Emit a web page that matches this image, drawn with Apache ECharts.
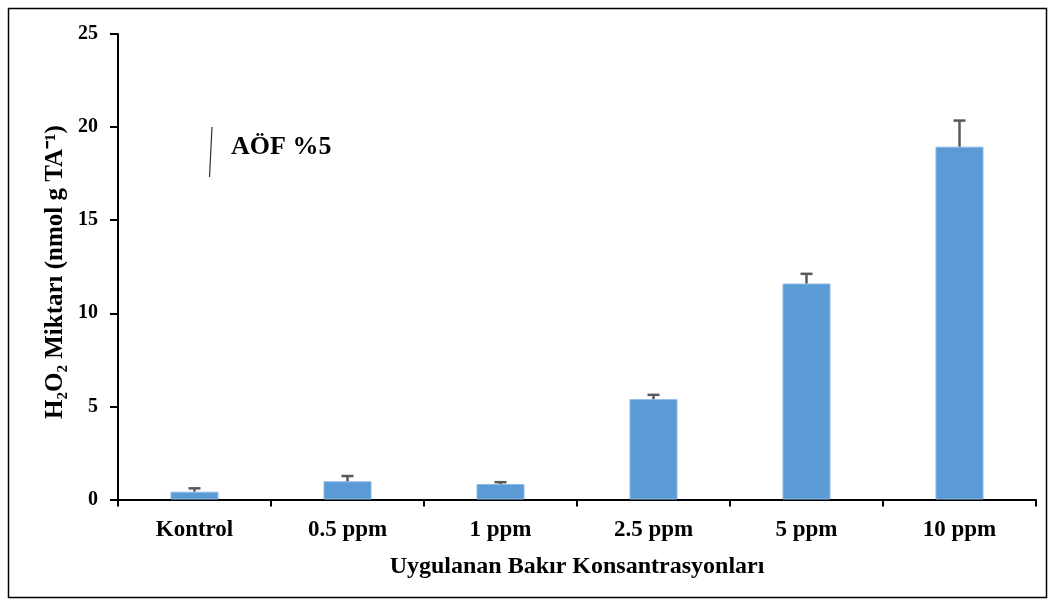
<!DOCTYPE html>
<html>
<head>
<meta charset="utf-8">
<script src="https://cdn.jsdelivr.net/npm/echarts@6/dist/echarts.min.js"></script>
<style>html,body{margin:0;padding:0;background:#fff}#c{width:1055px;height:606px}</style>
</head>
<body>
<div id="c"></div>
<script>
const categories = ['Kontrol', '0.5 ppm', '1 ppm', '2.5 ppm', '5 ppm', '10 ppm'];
const means = [0.42, 0.98, 0.83, 5.39, 11.6, 18.95];
const errors = [0.18, 0.28, 0.1, 0.23, 0.52, 1.4];
const yTicks = [0, 5, 10, 15, 20, 25];
const xTitle = 'Uygulanan Bakır Konsantrasyonları';
const yTitle = 'H₂O₂ Miktarı (nmol g TA⁻¹)';
const note = 'AÖF %5';

const font = '"Liberation Serif", "Times New Roman", serif';
const chart = echarts.init(document.getElementById('c'));
chart.setOption({
  animation: false,
  backgroundColor: '#fff',
  grid: { left: 118, right: 19, top: 34, bottom: 106.5 },
  xAxis: {
    type: 'category',
    data: categories,
    axisLine: { lineStyle: { color: '#000', width: 2 } },
    axisTick: { show: true, length: 7, lineStyle: { color: '#000', width: 2 } },
    axisLabel: { color: '#000', fontFamily: font, fontWeight: 'bold', fontSize: 23, margin: 19 },
    name: xTitle,
    nameLocation: 'middle',
    nameGap: 55,
    nameTextStyle: { color: '#000', fontFamily: font, fontWeight: 'bold', fontSize: 24 }
  },
  yAxis: {
    type: 'value',
    min: yTicks[0], max: yTicks[yTicks.length - 1], interval: 5,
    axisLine: { show: true, lineStyle: { color: '#000', width: 2 } },
    axisTick: { show: true, inside: false, length: 8, lineStyle: { color: '#000', width: 2 } },
    splitLine: { show: false },
    axisLabel: { color: '#000', fontFamily: font, fontWeight: 'bold', fontSize: 20, margin: 20 }
  },
  graphic: [
    { type: 'rect', shape: { x: 8.5, y: 8.5, width: 1038, height: 589 }, style: { fill: 'none', stroke: '#000', lineWidth: 1.5 }, silent: true, z: 0 },
    { type: 'text', x: 56, y: 272, rotation: Math.PI / 2, style: { text: yTitle, font: 'bold 25px ' + font, fill: '#000', align: 'center', verticalAlign: 'middle' } },
    { type: 'text', x: 231, y: 147, style: { text: note, font: 'bold 26px ' + font, fill: '#000', align: 'left', verticalAlign: 'middle' } },
    { type: 'line', shape: { x1: 212, y1: 127, x2: 209.5, y2: 177 }, style: { stroke: '#333', lineWidth: 1.2 } }
  ],
  series: [
    {
      type: 'bar',
      data: means,
      barWidth: 48,
      itemStyle: { color: '#5B9BD5', borderColor: '#8DB8E6', borderWidth: 1 },
      z: 2
    },
    {
      type: 'custom',
      z: 3,
      data: means.map((m, i) => [i, m, errors[i]]),
      renderItem: function (params, api) {
        const i = api.value(0), m = api.value(1), e = api.value(2);
        const p0 = api.coord([i, m]);
        const p1 = api.coord([i, m + e]);
        const half = 6;
        const st = { stroke: '#595959', lineWidth: 2.5 };
        return {
          type: 'group',
          children: [
            { type: 'line', shape: { x1: p0[0], y1: p0[1], x2: p1[0], y2: p1[1] }, style: st },
            { type: 'line', shape: { x1: p1[0] - half, y1: p1[1], x2: p1[0] + half, y2: p1[1] }, style: st }
          ]
        };
      }
    }
  ]
});
</script>
</body>
</html>
